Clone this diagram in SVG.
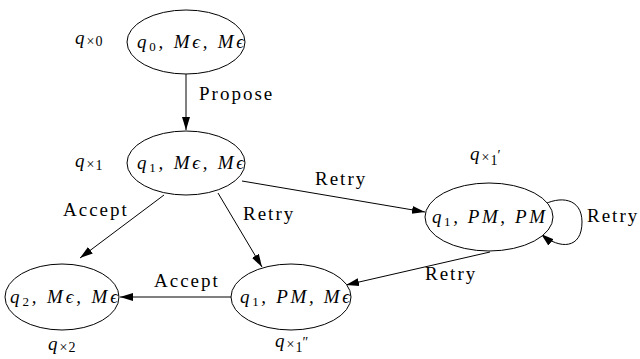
<svg xmlns="http://www.w3.org/2000/svg" width="640" height="359" viewBox="0 0 640 359">
<style>
.n{fill:#fff;stroke:#000;stroke-width:1}
.e{fill:none;stroke:#000;stroke-width:1}
text{font-family:'Liberation Serif',serif;fill:#000}
.m{font-style:italic;font-size:19px}
.s{font-size:13px;font-style:normal}
.l{font-size:19px;letter-spacing:2px}
.o{font-style:italic;font-size:19px}
.t{font-size:14px;font-style:normal}
</style>
<defs>
<marker id="a" viewBox="0 0 13 10" refX="13" refY="5" markerWidth="13" markerHeight="10" markerUnits="userSpaceOnUse" orient="auto">
<path d="M0,1 L13,5 L0,9 Z" fill="#000"/>
</marker>
</defs>
<rect width="640" height="359" fill="#fff"/>
<g id="edges">
<line class="e" x1="186" y1="74" x2="186" y2="130" marker-end="url(#a)"/>
<text class="l" x="199" y="100">Propose</text>
<line class="e" x1="164" y1="195" x2="80" y2="258" marker-end="url(#a)"/>
<text class="l" x="63" y="216">Accept</text>
<line class="e" x1="218" y1="193" x2="262" y2="267" marker-end="url(#a)"/>
<text class="l" x="243" y="220">Retry</text>
<line class="e" x1="242" y1="181" x2="425" y2="212" marker-end="url(#a)"/>
<text class="l" x="315" y="185">Retry</text>
<line class="e" x1="490" y1="252" x2="346" y2="285" marker-end="url(#a)"/>
<text class="l" x="425" y="280">Retry</text>
<line class="e" x1="231" y1="297" x2="120" y2="297" marker-end="url(#a)"/>
<text class="l" x="154" y="287">Accept</text>
<path class="e" d="M541,206 C560,195 582,198 582,222 C582,249 560,250 541,234" marker-end="url(#a)"/>
<text class="l" x="587" y="222">Retry</text>
</g>
<g id="n0">
<ellipse class="n" cx="186" cy="42" rx="59" ry="32"/>
<text class="m" x="137" y="48" textLength="107" lengthAdjust="spacing">q<tspan class="s" dy="3">0</tspan><tspan dy="-3">, Mϵ, Mϵ</tspan></text>
<text class="o" x="75" y="44">q<tspan class="t" dx="2" dy="2">×</tspan><tspan class="t" dx="1">0</tspan></text>
</g>
<g id="n1">
<ellipse class="n" cx="186" cy="163" rx="59" ry="32"/>
<text class="m" x="137" y="169" textLength="107" lengthAdjust="spacing">q<tspan class="s" dy="3">1</tspan><tspan dy="-3">, Mϵ, Mϵ</tspan></text>
<text class="o" x="75" y="167">q<tspan class="t" dx="2" dy="2">×</tspan><tspan class="t" dx="1" dy="1">1</tspan></text>
</g>
<g id="n2">
<ellipse class="n" cx="489" cy="217" rx="64" ry="34"/>
<text class="m" x="432" y="223" textLength="113" lengthAdjust="spacing">q<tspan class="s" dy="3">1</tspan><tspan dy="-3">, PM, PM</tspan></text>
<text class="o" x="470" y="160">q<tspan class="t" dx="2" dy="2">×</tspan><tspan class="t" dx="1" dy="3">1</tspan><tspan class="t" dy="-5">′</tspan></text>
</g>
<g id="n3">
<ellipse class="n" cx="62" cy="297" rx="57" ry="33"/>
<text class="m" x="10" y="303" textLength="108" lengthAdjust="spacing">q<tspan class="s" dy="3">2</tspan><tspan dy="-3">, Mϵ, Mϵ</tspan></text>
<text class="o" x="48" y="350">q<tspan class="t" dx="2" dy="2">×</tspan><tspan class="t" dx="1">2</tspan></text>
</g>
<g id="n4">
<ellipse class="n" cx="291" cy="297" rx="60" ry="33"/>
<text class="m" x="240" y="303" textLength="110" lengthAdjust="spacing">q<tspan class="s" dy="3">1</tspan><tspan dy="-3">, PM, Mϵ</tspan></text>
<text class="o" x="275" y="347">q<tspan class="t" dx="2" dy="2">×</tspan><tspan class="t" dx="1" dy="3">1</tspan><tspan class="t" dy="-5">″</tspan></text>
</g>
</svg>
